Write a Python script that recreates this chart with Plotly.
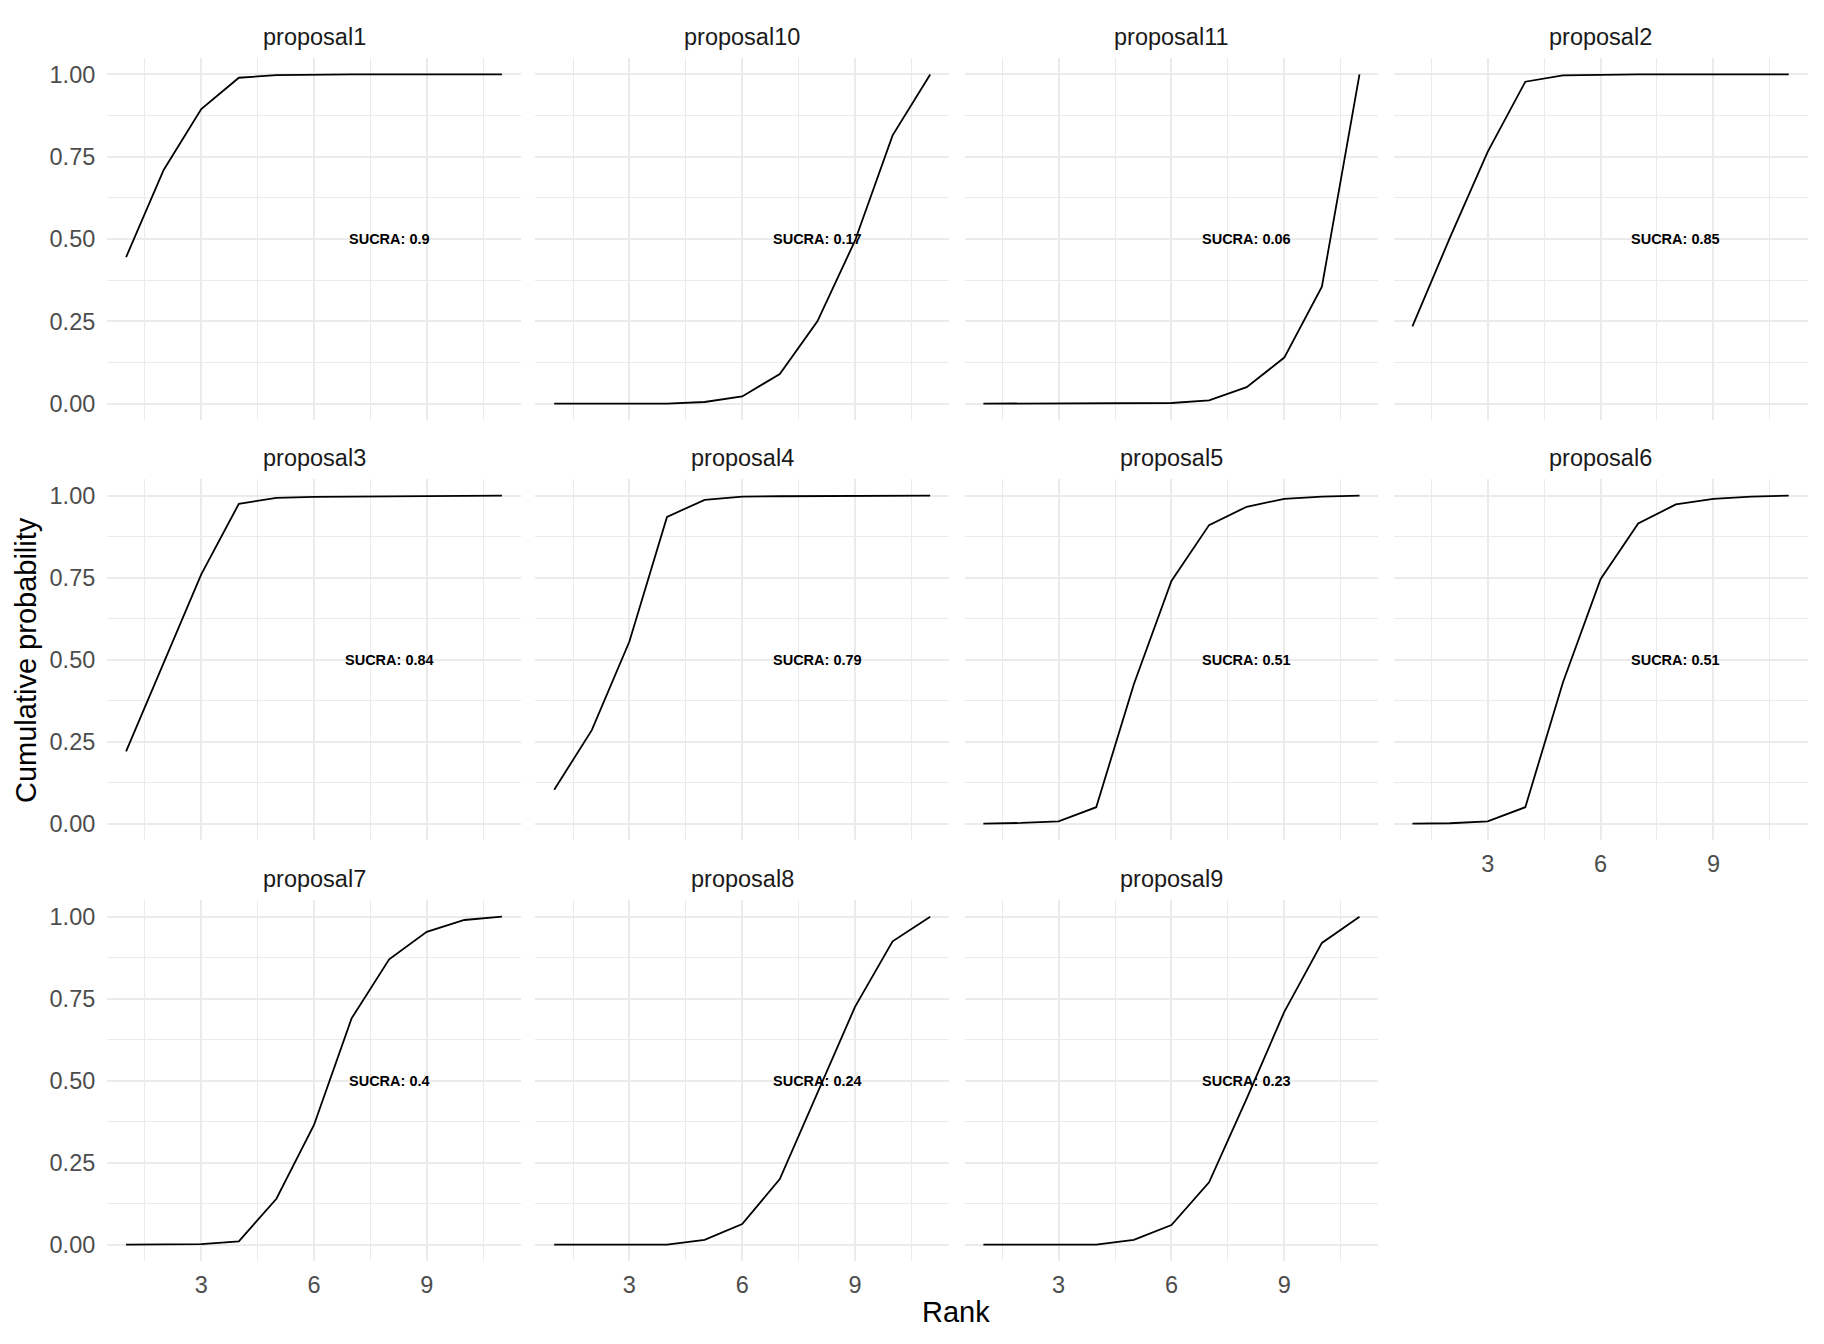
import plotly.graph_objects as go

ranks = list(range(1, 12))

panel_names = ["proposal1", "proposal10", "proposal11", "proposal2", "proposal3", "proposal4",
               "proposal5", "proposal6", "proposal7", "proposal8", "proposal9"]

proposal1 = [0.445, 0.71, 0.895, 0.99, 0.998, 1.0, 1.0, 1.0, 1.0, 1.0, 1.0]
proposal10 = [0.0, 0.0, 0.0, 0.0, 0.005, 0.022, 0.09, 0.25, 0.495, 0.815, 1.0]
proposal11 = [0.0, 0.0, 0.0, 0.0, 0.0, 0.002, 0.01, 0.05, 0.14, 0.355, 1.0]
proposal2 = [0.235, 0.505, 0.765, 0.978, 0.997, 0.999, 1.0, 1.0, 1.0, 1.0, 1.0]
proposal3 = [0.22, 0.49, 0.76, 0.975, 0.993, 0.996, 0.997, 0.998, 0.999, 1.0, 1.0]
proposal4 = [0.103, 0.285, 0.555, 0.935, 0.987, 0.997, 0.998, 0.999, 1.0, 1.0, 1.0]
proposal5 = [0.0, 0.002, 0.007, 0.05, 0.425, 0.74, 0.91, 0.966, 0.99, 0.997, 1.0]
proposal6 = [0.0, 0.001, 0.007, 0.05, 0.43, 0.745, 0.915, 0.973, 0.99, 0.997, 1.0]
proposal7 = [0.0, 0.0, 0.002, 0.01, 0.14, 0.365, 0.69, 0.87, 0.954, 0.99, 1.0]
proposal8 = [0.0, 0.0, 0.0, 0.0, 0.015, 0.063, 0.2, 0.46, 0.725, 0.925, 1.0]
proposal9 = [0.0, 0.0, 0.0, 0.0, 0.015, 0.06, 0.19, 0.445, 0.71, 0.92, 1.0]

series = [proposal1, proposal10, proposal11, proposal2, proposal3, proposal4,
          proposal5, proposal6, proposal7, proposal8, proposal9]

sucra_labels = ["SUCRA: 0.9", "SUCRA: 0.17", "SUCRA: 0.06", "SUCRA: 0.85", "SUCRA: 0.84",
                "SUCRA: 0.79", "SUCRA: 0.51", "SUCRA: 0.51", "SUCRA: 0.4", "SUCRA: 0.24",
                "SUCRA: 0.23"]

W, H = 1824, 1344
col_px = [(107.3, 520.7), (535.4, 949.0), (964.6, 1378.3), (1393.6, 1807.5)]
row_px = [(58.0, 420.1), (479.2, 840.0), (900.3, 1261.1)]

FONT = "Liberation Sans, Arial, sans-serif"
GRID = "#EBEBEB"
TICK_SIZE = 23.5

fig = go.Figure()
layout = dict(
    width=W, height=H,
    margin=dict(l=0, r=0, t=0, b=0),
    paper_bgcolor="white", plot_bgcolor="white",
    showlegend=False,
    font=dict(family=FONT, color="#4D4D4D", size=TICK_SIZE),
)
annotations = []
n = len(panel_names)
for i, name in enumerate(panel_names):
    r, c = divmod(i, 4)
    k = i + 1
    xa = "x" if k == 1 else f"x{k}"
    ya = "y" if k == 1 else f"y{k}"
    xkey = "xaxis" if k == 1 else f"xaxis{k}"
    ykey = "yaxis" if k == 1 else f"yaxis{k}"
    x0, x1 = col_px[c]
    y0, y1 = row_px[r]
    show_x = (i + 4) >= n
    show_y = c == 0
    layout[xkey] = dict(
        domain=[x0 / W, x1 / W], anchor=ya, range=[0.5, 11.5],
        tickmode="linear", tick0=0, dtick=3,
        showticklabels=show_x, ticks="", ticklabelstandoff=7,
        showgrid=True, gridcolor=GRID, gridwidth=2, zeroline=False, showline=False,
        minor=dict(tick0=0, dtick=1.5, showgrid=True, gridcolor=GRID, gridwidth=1),
        tickfont=dict(size=TICK_SIZE, color="#4D4D4D", family=FONT),
    )
    layout[ykey] = dict(
        domain=[1 - y1 / H, 1 - y0 / H], anchor=xa, range=[-0.05, 1.05],
        tickmode="linear", tick0=0, dtick=0.25, tickformat=".2f",
        showticklabels=show_y, ticks="", ticklabelstandoff=11,
        showgrid=True, gridcolor=GRID, gridwidth=2, zeroline=False, showline=False,
        minor=dict(tick0=0, dtick=0.125, showgrid=True, gridcolor=GRID, gridwidth=1),
        tickfont=dict(size=TICK_SIZE, color="#4D4D4D", family=FONT),
    )
    fig.add_trace(go.Scatter(x=ranks, y=series[i], mode="lines",
                             line=dict(color="black", width=1.8),
                             xaxis=xa, yaxis=ya, hoverinfo="skip"))
    annotations.append(dict(x=8, y=0.5, xref=xa, yref=ya, text=sucra_labels[i],
                            showarrow=False, xanchor="center", yanchor="middle",
                            font=dict(size=14.5, color="black", family=FONT, weight="bold")))
    annotations.append(dict(x=(x0 + x1) / 2 / W, y=1 - (y0 - 21) / H, xref="paper", yref="paper",
                            text=name, showarrow=False, xanchor="center", yanchor="middle",
                            font=dict(size=TICK_SIZE, color="#1A1A1A", family=FONT)))

annotations.append(dict(x=956 / W, y=1 - 1312 / H, xref="paper", yref="paper", text="Rank",
                        showarrow=False, xanchor="center", yanchor="middle",
                        font=dict(size=29, color="black", family=FONT)))
annotations.append(dict(x=26 / W, y=1 - 660 / H, xref="paper", yref="paper",
                        text="Cumulative probability", textangle=-90,
                        showarrow=False, xanchor="center", yanchor="middle",
                        font=dict(size=29, color="black", family=FONT)))
layout["annotations"] = annotations
fig.update_layout(**layout)
fig.write_html("out.html")
